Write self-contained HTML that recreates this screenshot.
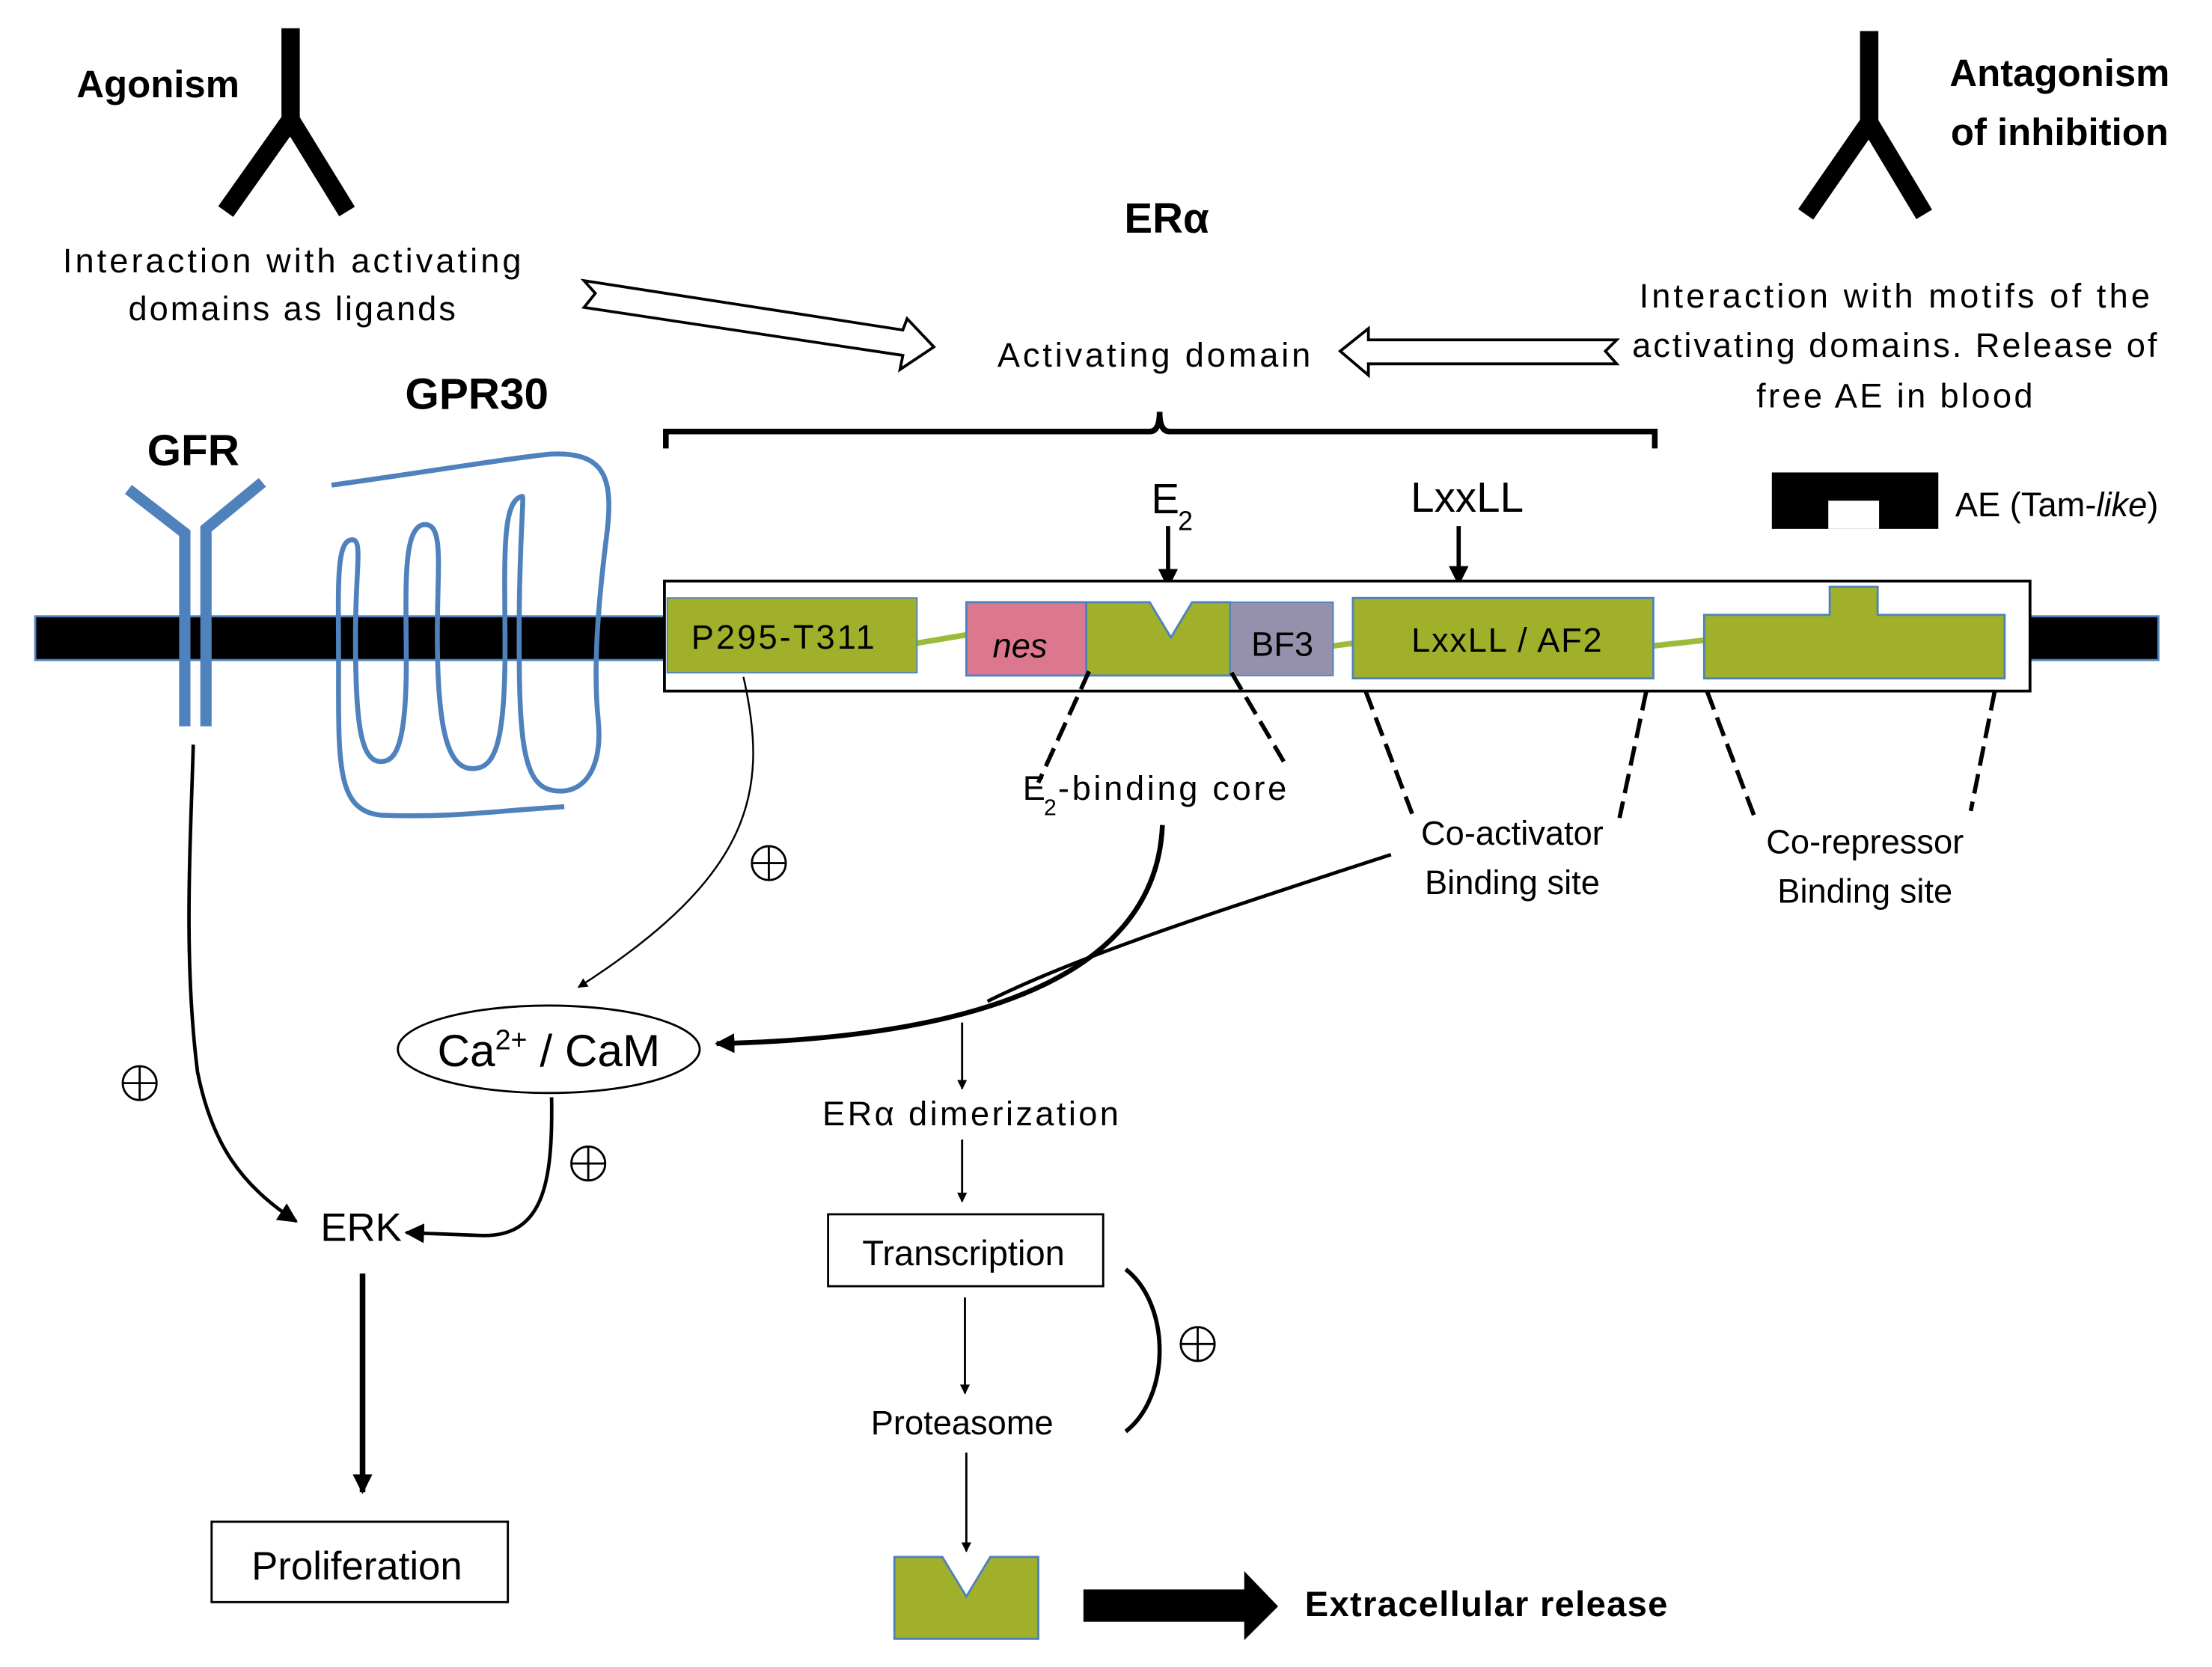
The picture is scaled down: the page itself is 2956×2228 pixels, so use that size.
<!DOCTYPE html>
<html><head><meta charset="utf-8"><style>
html,body{margin:0;padding:0;background:#fff}
svg{display:block}
text{font-family:"Liberation Sans",sans-serif;fill:#000}
</style></head><body>
<svg width="2956" height="2228" viewBox="0 0 1568 1182" preserveAspectRatio="none" xmlns="http://www.w3.org/2000/svg">
<defs>
<marker id="ah" viewBox="0 0 10 10" refX="9" refY="5" markerWidth="7" markerHeight="7" orient="auto-start-reverse" markerUnits="userSpaceOnUse"><path d="M0,0 L10,5 L0,10 z" fill="#000"/></marker>
<marker id="ah2" viewBox="0 0 10 10" refX="9" refY="5" markerWidth="14" markerHeight="14" orient="auto" markerUnits="userSpaceOnUse"><path d="M0,0 L10,5 L0,10 z" fill="#000"/></marker>
<g id="plus"><circle cx="0" cy="0" r="12" fill="none" stroke="#000" stroke-width="1.5"/><path d="M-12,0 H12 M0,-12 V12" stroke="#000" stroke-width="1.5"/></g>
</defs>
<!-- top labels -->
<text x="112" y="69" font-size="27" font-weight="bold" text-anchor="middle">Agonism</text>
<path d="M206,20 V85 M206,85 L160,150 M206,85 L246,150" stroke="#000" stroke-width="13" fill="none"/>
<text x="1460" y="61" font-size="27" font-weight="bold" text-anchor="middle">Antagonism</text>
<text x="1460" y="103" font-size="27" font-weight="bold" text-anchor="middle">of inhibition</text>
<path d="M1325,22 V87 M1325,87 L1280,152 M1325,87 L1364,152" stroke="#000" stroke-width="13" fill="none"/>
<text x="207" y="193" font-size="24" text-anchor="middle" textLength="325">Interaction with activating</text>
<text x="207" y="227" font-size="24" text-anchor="middle" textLength="232">domains as ligands</text>
<text x="827" y="165" font-size="30" font-weight="bold" text-anchor="middle">ERα</text>
<text x="818" y="260" font-size="24" text-anchor="middle" textLength="222">Activating domain</text>
<text x="1343" y="218" font-size="24" text-anchor="middle" textLength="362">Interaction with motifs of the</text>
<text x="1343" y="253" font-size="24" text-anchor="middle" textLength="372">activating domains. Release of</text>
<text x="1343" y="289" font-size="24" text-anchor="middle" textLength="196">free AE in blood</text>
<!-- hollow arrows -->
<path d="M414,199 L640,234 L643,226 L662,246 L638,262 L640,252 L414,218 L422,208 z" fill="#fff" stroke="#000" stroke-width="2"/>
<path d="M1146,241 L970,241 L970,233 L950,249 L970,266 L970,258 L1146,258 L1138,249 z" fill="#fff" stroke="#000" stroke-width="2"/>
<!-- brace -->
<path d="M472,318 V306 H815 Q822,306 822,292 Q822,306 829,306 H1173 V318" fill="none" stroke="#000" stroke-width="4"/>
<!-- labels -->
<text x="137" y="330" font-size="31" font-weight="bold" text-anchor="middle">GFR</text>
<text x="338" y="290" font-size="31" font-weight="bold" text-anchor="middle">GPR30</text>
<text x="816" y="364" font-size="30">E</text><text x="835" y="376" font-size="19">2</text>
<text x="1040" y="363" font-size="30" text-anchor="middle">LxxLL</text>
<path d="M828,373 V416" stroke="#000" stroke-width="3" marker-end="url(#ah2)"/>
<path d="M1034,373 V414" stroke="#000" stroke-width="3" marker-end="url(#ah2)"/>
<rect x="1256" y="335" width="118" height="40" fill="#000"/>
<rect x="1296" y="355" width="36" height="20" fill="#fff"/>
<text x="1386" y="366" font-size="24">AE (Tam-<tspan font-style="italic">like</tspan>)</text>
<!-- membrane -->
<rect x="25" y="437" width="1505" height="31" fill="#000" stroke="#4f81bd" stroke-width="1.5"/>
<!-- ERa box -->
<rect x="471" y="412" width="968" height="78" fill="#fff" stroke="#000" stroke-width="2"/>
<g stroke="#9bbb3a" stroke-width="4"><line x1="650" y1="456" x2="686" y2="450"/><line x1="945" y1="458" x2="960" y2="456"/><line x1="1172" y1="458" x2="1208" y2="454"/></g>
<rect x="473" y="424" width="177" height="53" fill="#a0b02a" stroke="#4f81bd" stroke-width="1"/>
<text x="555" y="460" font-size="24" text-anchor="middle" textLength="130">P295-T311</text>
<rect x="685" y="427" width="85" height="52" fill="#db7890" stroke="#4f81bd" stroke-width="1.5"/>
<text x="723" y="466" font-size="24" font-style="italic" text-anchor="middle">nes</text>
<path d="M770,427 H815 L830,452 L845,427 H872 V479 H770 z" fill="#a0b02a" stroke="#4f81bd" stroke-width="1.5"/>
<rect x="872" y="427" width="73" height="52" fill="#9591ad" stroke="#4f81bd" stroke-width="1"/>
<text x="909" y="465" font-size="24" text-anchor="middle">BF3</text>
<rect x="959" y="424" width="213" height="57" fill="#a0b02a" stroke="#4f81bd" stroke-width="1.5"/>
<text x="1068" y="462" font-size="24" text-anchor="middle" textLength="135">LxxLL / AF2</text>
<path d="M1208,436 H1297 V416 H1331 V436 H1421 V481 H1208 z" fill="#a0b02a" stroke="#4f81bd" stroke-width="1.5"/>
<!-- GFR -->
<g stroke="#4f81bd" stroke-width="8" fill="none">
<path d="M91,347 L131,378 V515"/><path d="M186,342 L146,375 V515"/>
</g>
<!-- GPR30 -->
<path d="M235,344 C300,335 360,325 390,322 C430,320 435,340 430,380 C425,420 420,470 424,510 C428,550 410,565 390,560 C370,555 368,520 368,450 C368,380 372,350 370,352 C355,355 358,400 358,460 C358,530 350,545 335,545 C318,545 310,520 310,450 C310,400 315,370 300,372 C285,375 288,420 288,470 C288,530 280,540 270,540 C255,540 252,510 252,450 C252,400 258,380 248,383 C238,386 240,420 240,470 C240,540 238,575 270,578 C320,580 350,575 400,572" fill="none" stroke="#4f81bd" stroke-width="3.5"/>
<!-- dashed lines -->
<g stroke="#000" stroke-width="3" stroke-dasharray="14,6" fill="none">
<line x1="772" y1="476" x2="736" y2="555"/><line x1="873" y1="477" x2="910" y2="540"/>
<line x1="968" y1="490" x2="1001" y2="577"/><line x1="1167" y1="490" x2="1148" y2="580"/>
<line x1="1210" y1="490" x2="1244" y2="580"/><line x1="1414" y1="490" x2="1397" y2="575"/>
</g>
<text x="725" y="567" font-size="24">E</text><text x="740" y="578" font-size="16">2</text>
<text x="750" y="567" font-size="24" textLength="162">-binding core</text>
<text x="1072" y="599" font-size="24" text-anchor="middle">Co-activator</text>
<text x="1072" y="634" font-size="24" text-anchor="middle">Binding site</text>
<text x="1322" y="605" font-size="24" text-anchor="middle">Co-repressor</text>
<text x="1322" y="640" font-size="24" text-anchor="middle">Binding site</text>
<!-- arrows to Ca -->
<path d="M527,480 C545,560 535,620 410,700" fill="none" stroke="#000" stroke-width="1.3" marker-end="url(#ah)"/>
<path d="M824,585 C820,680 720,735 508,740" fill="none" stroke="#000" stroke-width="3.5" marker-end="url(#ah2)"/>
<path d="M986,606 C850,650 760,680 700,710" fill="none" stroke="#000" stroke-width="2.5"/>
<ellipse cx="389" cy="744" rx="107" ry="31" fill="#fff" stroke="#000" stroke-width="1.5"/>
<text x="389" y="756" font-size="32" text-anchor="middle">Ca<tspan font-size="20" dy="-12">2+</tspan><tspan dy="12"> / CaM</tspan></text>
<!-- plus signs -->
<use href="#plus" x="545" y="612"/><use href="#plus" x="99" y="768"/><use href="#plus" x="417" y="825"/><use href="#plus" x="849" y="953"/>
<!-- GFR to ERK -->
<path d="M137,528 C135,600 130,680 140,760 C150,810 170,840 210,866" fill="none" stroke="#000" stroke-width="2.5" marker-end="url(#ah2)"/>
<path d="M391,778 C392,840 385,878 340,876 L288,874" fill="none" stroke="#000" stroke-width="2.5" marker-end="url(#ah2)"/>
<text x="256" y="880" font-size="28" text-anchor="middle">ERK</text>
<path d="M257,903 V1058" stroke="#000" stroke-width="4" marker-end="url(#ah2)"/>
<rect x="150" y="1079" width="210" height="57" fill="#fff" stroke="#000" stroke-width="1.5"/>
<text x="253" y="1120" font-size="28" text-anchor="middle">Proliferation</text>
<!-- center column -->
<path d="M682,725 V772" stroke="#000" stroke-width="1.5" marker-end="url(#ah)"/>
<text x="688" y="798" font-size="24" text-anchor="middle" textLength="210">ERα dimerization</text>
<path d="M682,808 V852" stroke="#000" stroke-width="1.5" marker-end="url(#ah)"/>
<rect x="587" y="861" width="195" height="51" fill="#fff" stroke="#000" stroke-width="1.5"/>
<text x="683" y="897" font-size="25" text-anchor="middle">Transcription</text>
<path d="M684,920 V988" stroke="#000" stroke-width="1.5" marker-end="url(#ah)"/>
<text x="682" y="1017" font-size="24" text-anchor="middle">Proteasome</text>
<path d="M685,1030 V1100" stroke="#000" stroke-width="1.5" marker-end="url(#ah)"/>
<path d="M798,900 C830,925 830,990 798,1015" fill="none" stroke="#000" stroke-width="3"/>
<path d="M634,1104 H668 L685,1132 L702,1104 H736 V1162 H634 z" fill="#a0b02a" stroke="#4f81bd" stroke-width="1.5"/>
<path d="M768,1127 H882 V1114 L906,1139 L882,1163 V1150 H768 z" fill="#000"/>
<text x="925" y="1146" font-size="25" font-weight="bold" textLength="257">Extracellular release</text>
</svg>
</body></html>
